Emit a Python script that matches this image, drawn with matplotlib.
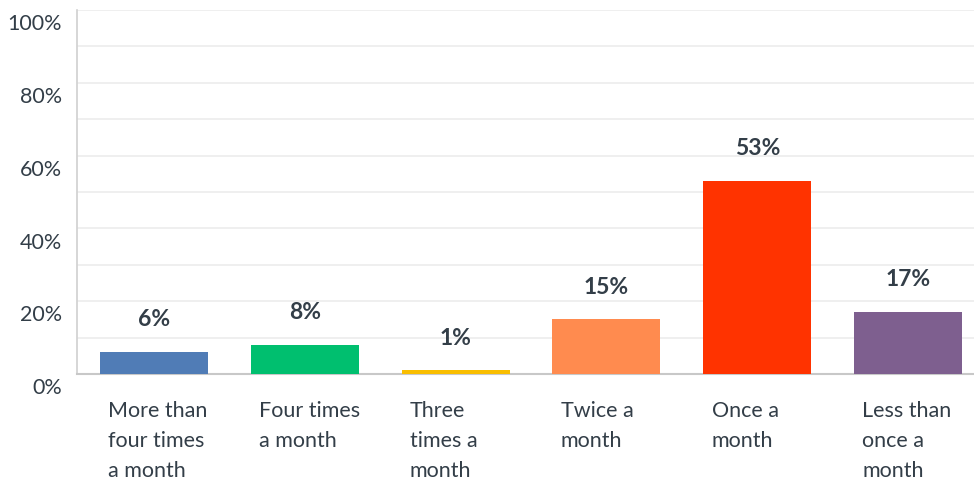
import matplotlib
matplotlib.use("Agg")
import matplotlib.pyplot as plt
from matplotlib.transforms import ScaledTranslation

categories = [
    "More than\nfour times\na month",
    "Four times\na month",
    "Three\ntimes a\nmonth",
    "Twice a\nmonth",
    "Once a\nmonth",
    "Less than\nonce a\nmonth",
]
values = [6, 8, 1, 15, 53, 17]
labels = ["6%", "8%", "1%", "15%", "53%", "17%"]
colors = ["#507cb6", "#00bf6f", "#f9be00", "#ff8b4f", "#ff3300", "#7e5f8f"]
yticks = [0, 20, 40, 60, 80, 100]

text_color = "#333e48"
plt.rcParams["font.family"] = ["Lato", "DejaVu Sans"]

fig = plt.figure(figsize=(9.74, 4.81), dpi=100)
ax = fig.add_axes([77 / 974, 1 - 375 / 481, 899 / 974, 364 / 481])

bar_w = 0.716
x = list(range(len(categories)))
ax.bar(x, values, width=bar_w, color=colors, zorder=3)

for xi, v, lab in zip(x, values, labels):
    ax.annotate(lab, (xi, v), xytext=(0, 24), textcoords="offset points",
                ha="center", va="center", fontsize=16.5, fontweight="bold",
                color=text_color)

ax.set_xlim(-0.51, 5.45)
ax.set_ylim(0, 100)
ax.set_yticks(yticks)
ax.set_yticklabels([f"{t}%" for t in yticks])
ax.set_yticks(range(10, 101, 10), minor=True)
ax.grid(axis="y", which="both", color="#ececec", linewidth=1.2, zorder=0)
ax.tick_params(axis="y", which="both", length=0, pad=11, labelsize=15.5,
               labelcolor=text_color)
for lbl in ax.get_yticklabels():
    lbl.set_transform(lbl.get_transform() + ScaledTranslation(0, -8 / 72, fig.dpi_scale_trans))

ax.set_xticks([])
for xi, cat in zip(x, categories):
    ax.annotate(cat, (xi - bar_w / 2, 0), xytext=(6, -18.5),
                textcoords="offset points", ha="left", va="top",
                fontsize=15.5, color=text_color, linespacing=1.62,
                annotation_clip=False)

for side in ("top", "right"):
    ax.spines[side].set_visible(False)
ax.spines["left"].set_color("#d0d0d0")
ax.spines["left"].set_linewidth(1.2)
ax.spines["bottom"].set_color("#c8c8c8")
ax.spines["bottom"].set_linewidth(1.5)

fig.savefig("out.png", dpi=100)
